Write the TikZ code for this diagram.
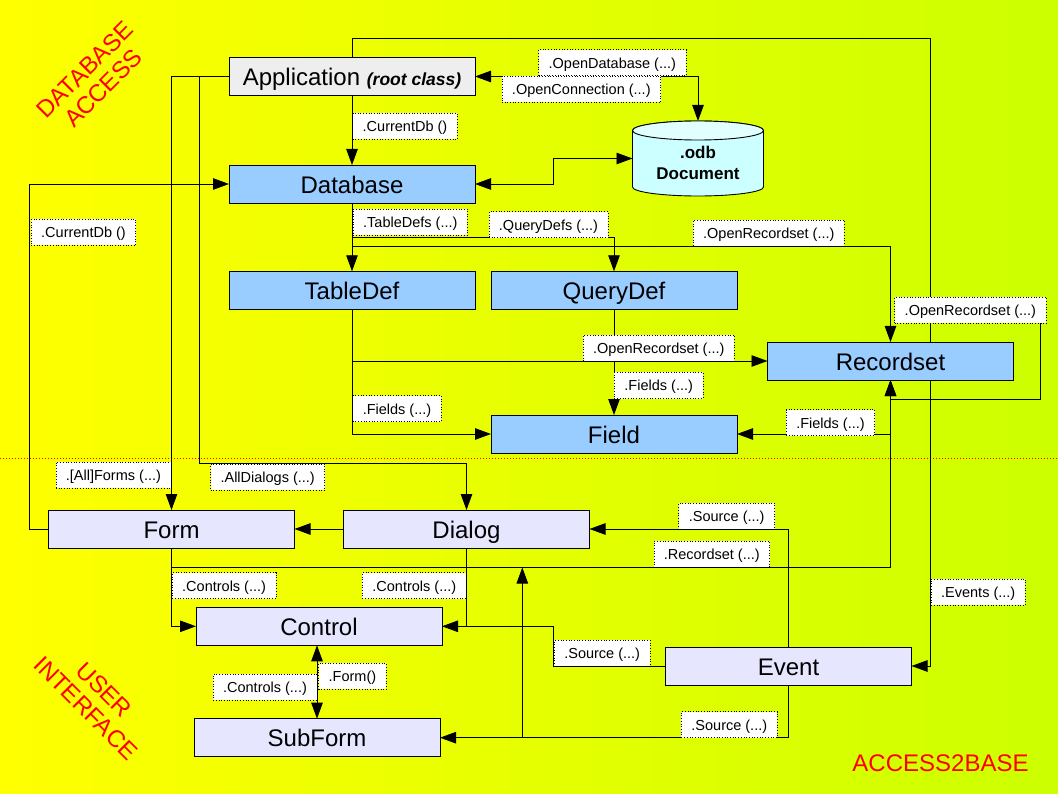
\documentclass[tikz,border=0pt]{standalone}
\usepackage{fontspec}
\setmainfont{Liberation Sans}
\usetikzlibrary{arrows.meta,backgrounds}
\definecolor{appgrey}{HTML}{EEEEEE}
\definecolor{dbblue}{HTML}{99CCFF}
\definecolor{uililac}{HTML}{E6E6FF}
\definecolor{odbside}{HTML}{CCFFFF}
\definecolor{odbtop}{HTML}{E2FFFF}
\definecolor{bgleft}{HTML}{FFFF00}
\definecolor{bgright}{HTML}{CCFF00}
\tikzset{
	classbox/.style={draw, line width=0.9pt, outer sep=0pt, inner sep=0pt, minimum width=246pt, minimum height=38pt, text height=21.5pt, text depth=3pt, font=\fontsize{24}{28}\selectfont},
	method/.style={draw, dotted, line width=0.7pt, fill=white, outer sep=0pt, inner xsep=10pt, inner ysep=0pt, minimum height=26pt, text height=14.5pt, text depth=3.5pt, font=\fontsize{14.5}{17}\selectfont},
	area/.style={text=red, align=center, font=\fontsize{24}{26}\selectfont},
	link/.style={line width=0.9pt}
}
\begin{document}
\begin{tikzpicture}[x=1pt, y=-1pt, >={Triangle[length=16pt,width=11.5pt]}]
	\useasboundingbox (0, 0) rectangle (1058, 794);
	
	%%%%% CLASSES %%%%%
	
	\node[classbox, fill=appgrey] (application) at (352, 76.5) {Application \fontsize{17.5}{20}\selectfont\bfseries\itshape (root class)};
	\node[classbox, fill=dbblue] (database) at (352, 184) {Database};
	\node[classbox, fill=dbblue] (tabledef) at (352, 290.3) {TableDef};
	\node[classbox, fill=dbblue] (querydef) at (614, 290.3) {QueryDef};
	\node[classbox, fill=dbblue] (recordset) at (890.5, 361) {Recordset};
	\node[classbox, fill=dbblue] (field) at (614, 434) {Field};
	
	\node[classbox, fill=uililac] (form) at (171.5, 529) {Form};
	\node[classbox, fill=uililac] (dialog) at (466.5, 529) {Dialog};
	\node[classbox, fill=uililac] (control) at (319, 626.3) {Control};
	\node[classbox, fill=uililac] (subform) at (317, 737.7) {SubForm};
	\node[classbox, fill=uililac] (event) at (788.5, 666) {Event};
	
	% the .odb cylinder
	\draw[line width=0.9pt, fill=odbside] (632.5, 130.5) -- (632.5, 187) arc (180:0:65.5 and 9) -- (763.5, 130.5) arc (0:-180:65.5 and 9.5) -- cycle;
	\draw[line width=0.9pt, fill=odbtop] (698, 130.5) ellipse (65.5 and 9.5);
	\node[minimum width=131pt, minimum height=75pt, outer sep=0pt, inner sep=0pt] (odb) at (698, 158.5) {};
	\node[align=center, font=\fontsize{17}{20.5}\selectfont\bfseries] (odbtext) at (698, 163) {.odb\\Document};
	
	%%%%% METHODS %%%%%
	
	\node[method] (opendb) at (612.3, 62.8) {.OpenDatabase (...)};
	\node[method] (openconn) at (581.3, 89.3) {.OpenConnection (...)};
	\node[method] (appcurrentdb) at (405, 126.3) {.CurrentDb ()};
	\node[method] (tabledefs) at (410.3, 222) {.TableDefs (...)};
	\node[method] (querydefs) at (548.5, 224.7) {.QueryDefs (...)};
	\node[method] (dbopenrs) at (768.8, 233.2) {.OpenRecordset (...)};
	\node[method] (selfopenrs) at (970.4, 310.3) {.OpenRecordset (...)};
	\node[method] (defopenrs) at (658.8, 348.3) {.OpenRecordset (...)};
	\node[method] (queryfields) at (658.7, 385.5) {.Fields (...)};
	\node[method] (tablefields) at (397, 408.5) {.Fields (...)};
	\node[method] (rsfields) at (830.5, 422.7) {.Fields (...)};
	\node[method] (formcurrentdb) at (83.5, 232.5) {.CurrentDb ()};
	\node[method] (allforms) at (113.4, 475.3) {.[All]Forms (...)};
	\node[method] (alldialogs) at (267.7, 477.2) {.AllDialogs (...)};
	\node[method] (dialogsource) at (726.7, 516.2) {.Source (...)};
	\node[method] (formrs) at (711.8, 554.2) {.Recordset (...)};
	\node[method] (formcontrols) at (224.1, 585.5) {.Controls (...)};
	\node[method] (dialogcontrols) at (414.3, 585.5) {.Controls (...)};
	\node[method] (controlsource) at (602.2, 653.3) {.Source (...)};
	\node[method] (events) at (978.2, 592) {.Events (...)};
	\node[method] (ctrlform) at (352.4, 676.3) {.Form()};
	\node[method] (subcontrols) at (265, 687.3) {.Controls (...)};
	\node[method] (subsource) at (729.3, 724.5) {.Source (...)};
	
	%%%%% AREAS %%%%%
	
	\node[area, rotate=45] (dbarea) at (94, 79) {DATABASE\\ACCESS};
	\node[area, rotate=-45] (uiarea) at (95, 699) {USER\\INTERFACE};
	\node[text=red, font=\fontsize{24}{26}\selectfont] (brand) at (940.5, 763) {ACCESS2BASE};
	
	%%%%% LINKS %%%%%
	
	\begin{scope}[on background layer]
		\shade[left color=bgleft, right color=bgright] (0, 0) rectangle (1058, 794);
		\draw[red, dotted, line width=1pt] (0, 458.3) -- (1058, 458.3);
		
		\coordinate (topright) at (930.7, 38.5);
		\coordinate (selfright) at (1040.4, 399);
		\coordinate (rsbranch) at (890.5, 567.5);
		\coordinate (upleft) at (522.3, 567.5);
		
		\draw[link, <->] (application.east) -- (application.east -| odb.north) -- (odb.north);
		\draw[link, ->] (application.north) |- (topright) |- (event.east);
		\draw[link, ->] (application.west) -| (form.north);
		\draw[link, ->] (199.5, 76.5) |- (466.5, 463.5) -- (dialog.north);
		\draw[link, ->] (application.south) -- (database.north);
		\draw[link, ->] (form.west) -| (29.7, 184) -- (database.west);
		\draw[link, <->] (database.east) -| (553, 158.5) -- (odb.west);
		\draw[link, ->] (database.south) -- (tabledef.north);
		\draw[link, ->] (352, 237.3) -| (querydef.north);
		\draw[link, ->] (352, 246.5) -| (recordset.north);
		\draw[link, ->] (tabledef.south) |- (field.west);
		\draw[link, ->] (352, 361) -- (recordset.west);
		\draw[link, ->] (querydef.south) -- (field.north);
		\draw[link, ->] (930.7, 310.3) -| (selfright) -| (recordset.south);
		\draw[link, ->] (form.south) |- (rsbranch) -- (recordset.south);
		\draw[link, ->] (890.5, 434) -- (field.east);
		\draw[link, ->] (dialog.west) -- (form.east);
		\draw[link, ->] (form.south) |- (control.west);
		\draw[link, ->] (dialog.south) |- (control.east);
		\draw[link] (event.west) -| (553.5, 626.3) -- (control.east);
		\draw[link, ->] (event.north) |- (dialog.east);
		\draw[link, ->] (event.south) |- (subform.east);
		\draw[link, ->] (522.3, 737.7) -- (upleft);
		\draw[link, <->] (subform.north) -- (subform.north |- control.south);
	\end{scope}
	
	%%%%% END %%%%%
\end{tikzpicture}
\end{document}
